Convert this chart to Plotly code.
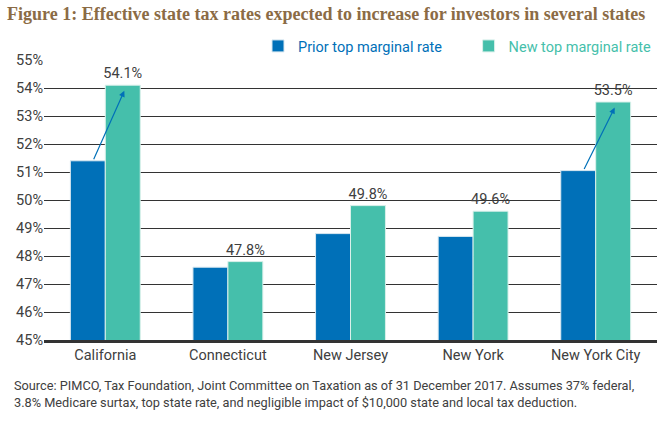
import plotly.graph_objects as go

states = ["California", "Connecticut", "New Jersey", "New York", "New York City"]
prior_rate = [51.4, 47.6, 48.8, 48.7, 51.05]
new_rate = [54.1, 47.8, 49.8, 49.6, 53.5]
arrow_states = [0, 4]  # California and New York City

blue = "#0070B8"
teal = "#45BFAB"
txt = "#404040"
narrow = "Roboto, sans-serif"

fig = go.Figure()
fig.add_trace(go.Bar(
    x=states, y=prior_rate,
    name="<span style='color:%s'>Prior top marginal rate</span>&nbsp;&nbsp;&nbsp;&nbsp;&nbsp;&nbsp;" % blue,
    marker=dict(color=blue, line=dict(color="#D9E8F0", width=1)),
))
fig.add_trace(go.Bar(
    x=states, y=new_rate,
    name="<span style='color:%s'>New top marginal rate</span>" % teal,
    marker=dict(color=teal, line=dict(color="#D9F0EA", width=1)),
    text=["%.1f%%" % v for v in new_rate], textposition="outside",
    constraintext="none",
    textfont=dict(family=narrow, size=14.5, color=txt),
    cliponaxis=False,
))

for i in arrow_states:
    fig.add_annotation(
        x=i + 0.155, y=new_rate[i] - 0.2, ax=i - 0.1, ay=prior_rate[i],
        xref="x", yref="y", axref="x", ayref="y",
        showarrow=True, arrowhead=2, arrowsize=1, arrowwidth=1.2,
        arrowcolor=blue, text="",
    )

fig.add_annotation(
    text="<b>Figure 1: Effective state tax rates expected to increase for investors in several states</b>",
    xref="paper", yref="paper", x=-0.064, y=1.164, xanchor="left", yanchor="middle",
    showarrow=False, font=dict(family="Liberation Serif, DejaVu Serif, serif", size=18, color="#8B6B45"),
)
fig.add_annotation(
    text="Source: PIMCO, Tax Foundation, Joint Committee on Taxation as of 31 December 2017. Assumes 37% federal,<br>"
         "3.8% Medicare surtax, top state rate, and negligible impact of $10,000 state and local tax deduction.",
    xref="paper", yref="paper", x=-0.052, y=-0.13, xanchor="left", yanchor="top", align="left",
    showarrow=False, font=dict(family=narrow, size=12.75, color=txt),
)

fig.update_layout(
    width=669, height=430,
    margin=dict(l=44, r=12, t=60, b=90, autoexpand=False),
    paper_bgcolor="white", plot_bgcolor="white",
    barmode="group", bargap=0.43, bargroupgap=0,
    font=dict(family=narrow, color=txt, size=14),
    showlegend=True,
    legend=dict(orientation="h", x=1.0, xanchor="right", y=1.05, yanchor="middle",
                font=dict(family=narrow, size=14.5), itemwidth=30, traceorder="normal",
                bgcolor="rgba(0,0,0,0)"),
    xaxis=dict(showline=True, linecolor="#333333", linewidth=2.5, ticks="",
               tickfont=dict(family=narrow, size=14.5, color=txt)),
    yaxis=dict(range=[45, 55], dtick=1, ticksuffix="%", showgrid=True,
               gridcolor="#333333", gridwidth=1.2, zeroline=False,
               tickfont=dict(family=narrow, size=14.5, color=txt)),
)

fig.write_html("out.html", config={"displayModeBar": False},
               post_script="document.body.style.margin='0';")
